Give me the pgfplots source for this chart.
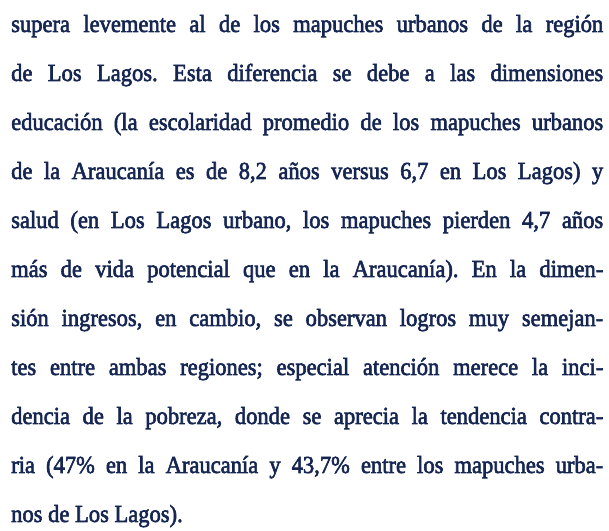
\documentclass[border=0pt]{standalone}
\usepackage{pgfplots}
\pgfplotsset{compat=1.18}
\usepackage{fontspec}
\setmainfont{Liberation Serif}[FakeBold=2.4, FakeStretch=0.92]
\definecolor{navy}{RGB}{22,38,82}
\begin{document}
\begin{tikzpicture}
\useasboundingbox (0,0) rectangle (609bp,531bp);
\begin{axis}[
  at={(0,0)}, anchor=south west,
  width=609bp, height=531bp, scale only axis,
  axis lines=none, xmin=0, xmax=609, ymin=0, ymax=531,
  clip=false]
\node[anchor=base west, inner sep=0pt, text=navy] at (axis cs:11,499) {%
\parbox[t]{592bp}{\fontsize{24.5bp}{49.0bp}\selectfont\frenchspacing
supera levemente al de los mapuches urbanos de la región\linebreak
de Los Lagos. Esta diferencia se debe a las dimensiones\linebreak
educación (la escolaridad promedio de los mapuches urbanos\linebreak
de la Araucanía es de 8,2 años versus 6,7 en Los Lagos) y\linebreak
salud (en Los Lagos urbano, los mapuches pierden 4,7 años\linebreak
más de vida potencial que en la Araucanía). En la dimen-\linebreak
sión ingresos, en cambio, se observan logros muy semejan-\linebreak
tes entre ambas regiones; especial atención merece la inci-\linebreak
dencia de la pobreza, donde se aprecia la tendencia contra-\linebreak
ria (47\% en la Araucanía y 43,7\% entre los mapuches urba-\linebreak
nos de Los Lagos).\par}};
\end{axis}
\end{tikzpicture}
\end{document}
